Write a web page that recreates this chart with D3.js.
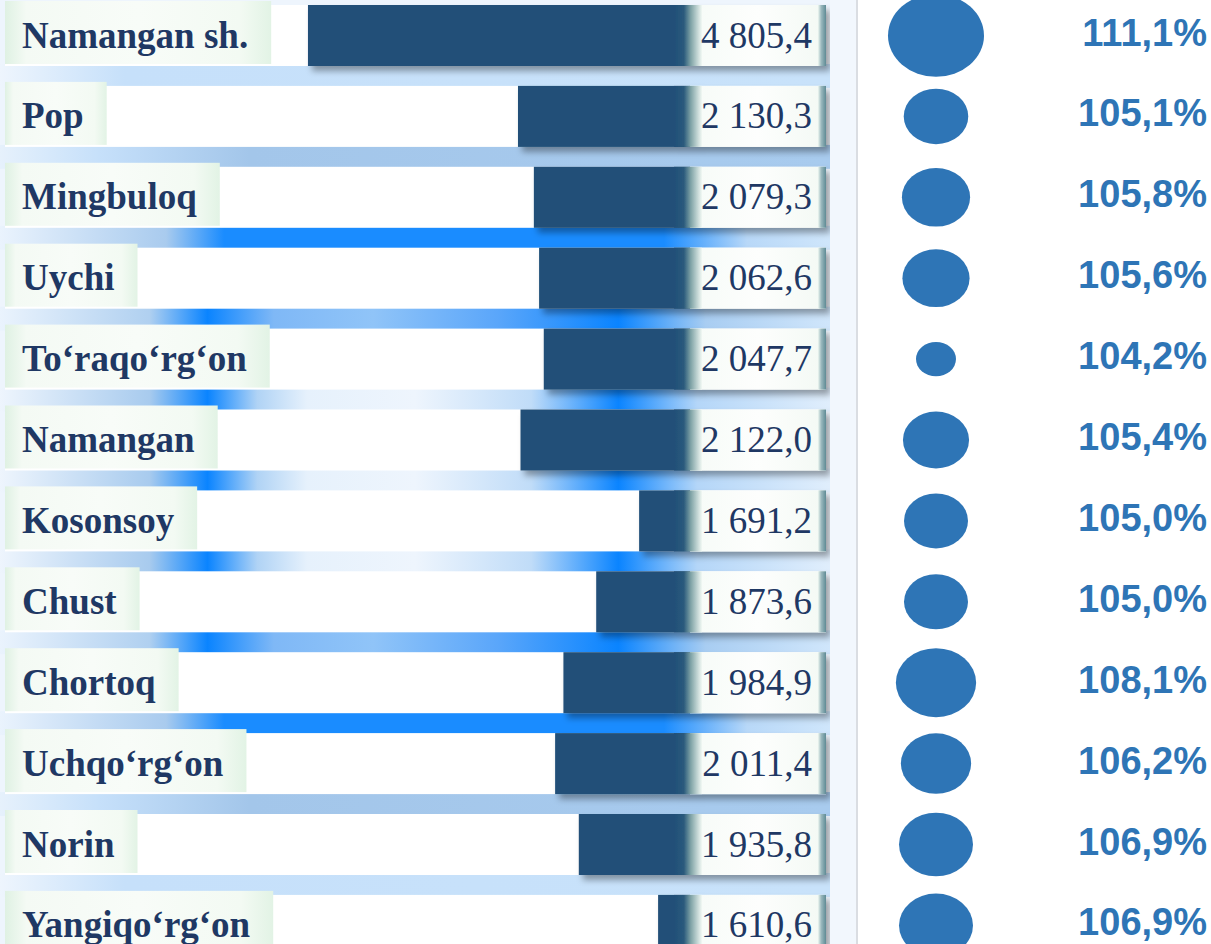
<!DOCTYPE html>
<html>
<head>
<meta charset="utf-8">
<script src="https://cdn.jsdelivr.net/npm/d3@7"></script>
<style>
  html, body { margin: 0; padding: 0; background: #fff; }
  svg { display: block; }
</style>
</head>
<body>
<div id="chart"></div>
<script>
var districts = ['Namangan sh.', 'Pop', 'Mingbuloq', 'Uychi', 'To‘raqo‘rg‘on', 'Namangan',
  'Kosonsoy', 'Chust', 'Chortoq', 'Uchqo‘rg‘on', 'Norin', 'Yangiqo‘rg‘on']
var volumes = [4805.4, 2130.3, 2079.3, 2062.6, 2047.7, 2122.0, 1691.2, 1873.6, 1984.9, 2011.4, 1935.8, 1610.6]
var growth = [111.1, 105.1, 105.8, 105.6, 104.2, 105.4, 105.0, 105.0, 108.1, 106.2, 106.9, 106.9]

// background stripes between rows (just decoration)
var pale = [[0, '#eef5fd'], [0.15, '#c6e0fa'], [1, '#c8e2fa']]
var mid = [[0, '#e6f1fc'], [0.12, '#c6e0fa'], [0.3, '#a3c6ea'], [1, '#a8cbee']]
var bright = [[0, '#eaf3fd'], [0.2, '#a9cbee'], [0.27, '#1a8cff'], [0.8, '#1a8cff'], [0.9, '#b8d8f8'], [1, '#cfe6fb']]
var spots = [[0, '#eef5fd'], [0.18, '#a8cbee'], [0.25, '#0a84ff'], [0.31, '#b0d3f5'], [0.37, '#e6f1fc'],
  [0.5, '#eef5fd'], [0.64, '#c0dcf8'], [0.745, '#0a84ff'], [0.84, '#b4d6f8'], [1, '#e0eefc']]
var spotsMid = [[0, '#eaf3fd'], [0.18, '#b0d0f0'], [0.25, '#0a84ff'], [0.33, '#7fb8f6'], [0.45, '#90c4f8'],
  [0.6, '#5aa6fa'], [0.745, '#0a84ff'], [0.85, '#a8cdf2'], [1, '#d0e6fb']]
var gapStyles = [pale, mid, bright, spotsMid, spots, spots, spots, spotsMid, bright, mid, pale]

var width = 1211, height = 944
var barRight = 690, boxRight = 826, panelX = 856
var rowStep = 80.9, barH = 61

var fmt = d3.formatLocale({ decimal: ',', thousands: ' ', grouping: [3], currency: ['', ''] })
var fmtVol = fmt.format(',.1f')
var fmtPct = fmt.format('.1f')

var svg = d3.select('#chart').append('svg')
  .attr('width', width)
  .attr('height', height)
var defs = svg.append('defs')

var y = d3.scaleBand()
  .domain(districts)
  .range([5, 5 + rowStep * districts.length])
  .padding(0)

var x = d3.scaleLinear()
  .domain([1560, 1900, 2130, 4805])
  .range([670, 590, 518, 308])

var r = d3.scaleLinear()
  .domain([104.2, 105, 111.1])
  .range([20, 32, 48])

function hGradient(id, stops) {
  var g = defs.append('linearGradient').attr('id', id)
    .attr('x1', 0).attr('x2', 1).attr('y1', 0).attr('y2', 0)
  stops.forEach(function(s) {
    g.append('stop').attr('offset', s[0]).attr('stop-color', s[1])
  })
}

gapStyles.forEach(function(stops, i) { hGradient('gap' + i, stops) })
hGradient('labelBox', [[0, '#dff1e3'], [0.08, '#f4faf4'], [0.5, '#f8fcf8'], [0.88, '#f3faf3'], [1, '#e2f3e5']])
hGradient('barFade', [[0, '#214f78'], [0.35, '#2a5a7c'], [0.6, '#7fa3a6'], [1, '#f2f9f4']])
hGradient('valBox', [[0, '#f6fbf7'], [0.5, '#fdfefd'], [1, '#f3f9f4']])
hGradient('edge', [[0, '#eef7f1'], [0.4, '#9bb9be'], [1, '#5f8b95']])

var shadow = defs.append('filter').attr('id', 'shadow')
  .attr('x', '-5%').attr('y', '-20%').attr('width', '115%').attr('height', '150%')
shadow.append('feDropShadow')
  .attr('dx', 4).attr('dy', 5).attr('stdDeviation', 3)
  .attr('flood-color', '#000').attr('flood-opacity', 0.35)

// page background
svg.append('rect')
  .attr('width', panelX).attr('height', height)
  .attr('fill', '#eef5fd')

// stripes between rows
svg.append('g').selectAll('rect')
  .data(gapStyles)
  .enter().append('rect')
  .attr('x', 0)
  .attr('y', function(d, i) { return y(districts[i]) + barH - 2 })
  .attr('width', boxRight + 4)
  .attr('height', function(d, i) { return y(districts[i + 1]) - y(districts[i]) - barH + 4 })
  .attr('fill', function(d, i) { return 'url(#gap' + i + ')' })

// white row backgrounds
svg.append('g').selectAll('rect')
  .data(districts)
  .enter().append('rect')
  .attr('x', 5)
  .attr('y', function(d) { return y(d) })
  .attr('width', boxRight - 5)
  .attr('height', barH)
  .attr('fill', '#fff')

// bars with their value boxes
var bars = svg.append('g').selectAll('g')
  .data(districts)
  .enter().append('g')
  .attr('filter', 'url(#shadow)')

bars.append('rect')
  .attr('x', function(d, i) { return x(volumes[i]) })
  .attr('y', function(d) { return y(d) })
  .attr('width', function(d, i) { return barRight - x(volumes[i]) })
  .attr('height', barH)
  .attr('fill', '#214f78')

bars.append('rect')
  .attr('x', barRight)
  .attr('y', function(d) { return y(d) })
  .attr('width', boxRight - barRight)
  .attr('height', barH)
  .attr('fill', 'url(#valBox)')

bars.append('rect')
  .attr('x', barRight - 16)
  .attr('y', function(d) { return y(d) })
  .attr('width', 28)
  .attr('height', barH)
  .attr('fill', 'url(#barFade)')

bars.append('rect')
  .attr('x', boxRight - 8)
  .attr('y', function(d) { return y(d) })
  .attr('width', 8)
  .attr('height', barH)
  .attr('fill', 'url(#edge)')

svg.append('g').selectAll('text')
  .data(districts)
  .enter().append('text')
  .attr('x', 812)
  .attr('y', function(d) { return y(d) + barH / 2 + 12 })
  .attr('text-anchor', 'end')
  .attr('font-family', '"Liberation Serif", "Times New Roman", serif')
  .attr('font-size', 37)
  .attr('fill', '#1f3864')
  .text(function(d, i) { return fmtVol(volumes[i]) })

// category labels on light boxes
var labels = svg.append('g').selectAll('g')
  .data(districts)
  .enter().append('g')

var labelBoxes = labels.append('rect')
  .attr('x', 5)
  .attr('y', function(d) { return y(d) - 4 })
  .attr('height', barH + 2)
  .attr('fill', 'url(#labelBox)')

var labelTexts = labels.append('text')
  .attr('x', 22)
  .attr('y', function(d) { return y(d) + barH / 2 + 12 })
  .attr('font-family', '"Liberation Serif", "Times New Roman", serif')
  .attr('font-weight', 'bold')
  .attr('font-size', 37)
  .attr('fill', '#1f3864')
  .text(function(d) { return d })

labelBoxes.attr('width', function(d, i) {
  return labelTexts.nodes()[i].getComputedTextLength() + 40
})

// right panel with growth bubbles
svg.append('rect')
  .attr('x', boxRight + 4).attr('width', panelX - boxRight - 4).attr('height', height)
  .attr('fill', '#f2f7fd')
svg.append('line')
  .attr('x1', panelX + 1).attr('x2', panelX + 1)
  .attr('y1', 0).attr('y2', height)
  .attr('stroke', '#dadde2').attr('stroke-width', 2)

svg.append('g').selectAll('ellipse')
  .data(districts)
  .enter().append('ellipse')
  .attr('cx', 936)
  .attr('cy', function(d) { return y(d) + barH / 2 })
  .attr('rx', function(d, i) { return r(growth[i]) })
  .attr('ry', function(d, i) { return r(growth[i]) * 0.86 })
  .attr('fill', '#2e75b6')

svg.append('g').selectAll('text')
  .data(districts)
  .enter().append('text')
  .attr('x', 1207)
  .attr('y', function(d) { return y(d) + barH / 2 + 10 })
  .attr('text-anchor', 'end')
  .attr('font-family', '"Liberation Sans", Arial, sans-serif')
  .attr('font-weight', 'bold')
  .attr('font-size', 38)
  .attr('fill', '#2e75b6')
  .text(function(d, i) { return fmtPct(growth[i]) + '%' })
</script>
</body>
</html>
